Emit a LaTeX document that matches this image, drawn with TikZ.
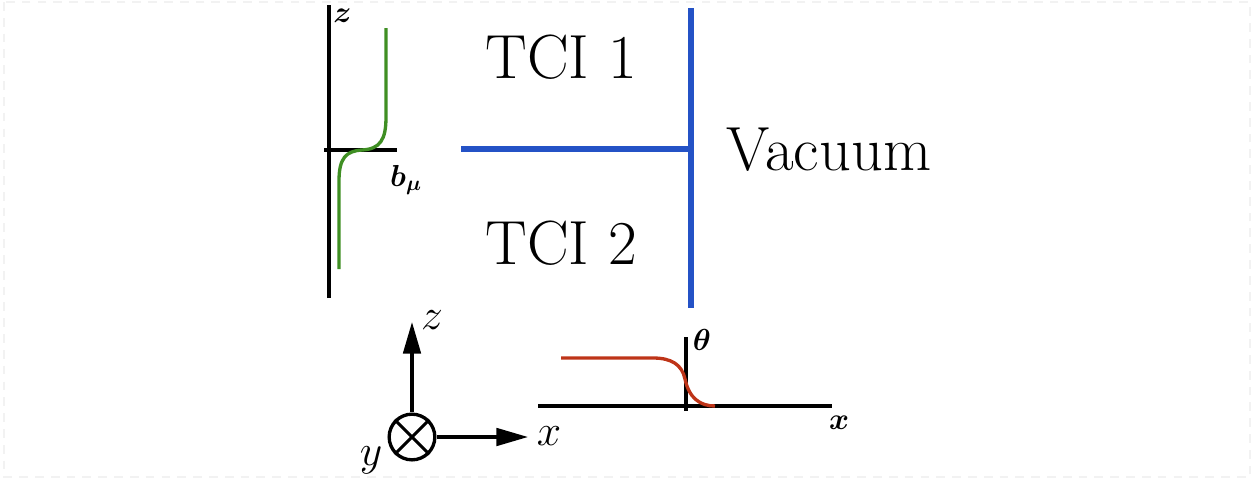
\documentclass[tikz,border=0pt]{standalone}
\usepackage{bm}
\usetikzlibrary{arrows.meta}
\definecolor{wallblue}{RGB}{36,82,198}
\definecolor{bgreen}{RGB}{63,143,35}
\definecolor{tred}{RGB}{190,52,24}
\begin{document}
\begin{tikzpicture}[x=0.02cm,y=-0.02cm,
  wall/.style={line width=3.4pt, draw=wallblue},
  ax/.style={line width=2pt, draw=black},
  plotcurve/.style={line width=1.9pt},
  bigtext/.style={font=\fontsize{35.5}{40}\selectfont, inner sep=0pt},
  smalllab/.style={font=\fontsize{17}{19}\selectfont, inner sep=0pt},
  axlab/.style={font=\fontsize{26}{30}\selectfont, inner sep=0pt},
  arr/.style={line width=1.8pt, -{Triangle[length=18pt,width=10pt]}}]
\useasboundingbox (0,0) rectangle (1255,481);
\draw[black!5, dashed, line width=0.6pt, dash pattern=on 5pt off 4pt] (4,2) rectangle (1250,477);

% domain wall
\coordinate (wtop) at (691,8);
\coordinate (wbot) at (691,308);
\coordinate (wjoin) at (691,149);
\coordinate (wleft) at (461,149);
\draw[wall] (wtop) -- (wbot);
\draw[wall] (wleft) -- (wjoin);
\node[bigtext] (tci1) at (561,57) {TCI 1};
\node[bigtext] (tci2) at (561,243) {TCI 2};
\node[bigtext] (vac) at (829,150) {Vacuum};

% b_mu profile
\coordinate (zb) at (329,298);
\coordinate (zt) at (329,5);
\coordinate (bl) at (324,150);
\coordinate (br) at (397,150);
\draw[ax] (zb) -- (zt);
\draw[ax] (bl) -- (br);
\node[smalllab, anchor=west] (zlab1) at (333,16) {$\bm{z}$};
\node[smalllab] (blab) at (406,180) {$\bm{b_{\mu}}$};
\coordinate (g0) at (339,269);
\coordinate (g1) at (339,181);
\coordinate (g2) at (386,117);
\coordinate (g3) at (386,28);
\draw[plotcurve, bgreen] (g0) -- (g1) .. controls (339,158) and (346,151) .. (362,150) .. controls (380,149) and (386,140) .. (g2) -- (g3);

% theta profile
\coordinate (xl) at (538,406);
\coordinate (xr) at (832,406);
\coordinate (tb) at (686,411);
\coordinate (tt) at (686,337);
\draw[ax] (xl) -- (xr);
\draw[ax] (tb) -- (tt);
\node[smalllab] (thlab) at (702,340) {$\bm{\theta}$};
\node[smalllab] (xlab2) at (839,423) {$\bm{x}$};
\coordinate (r0) at (561,358);
\coordinate (r1) at (653,358);
\coordinate (r2) at (715,406);
\draw[plotcurve, tred] (r0) -- (r1) .. controls (672,358) and (682,365) .. (685,379) .. controls (689,398) and (700,406) .. (r2);

% coordinate axes
\node[circle, draw, line width=1.9pt, minimum size=26pt, inner sep=0pt] (ycirc) at (412,437) {};
\draw[line width=1.8pt] (ycirc.north west) -- (ycirc.south east);
\draw[line width=1.8pt] (ycirc.north east) -- (ycirc.south west);
\coordinate (ztip) at (412,322);
\coordinate (xtip) at (528,437);
\draw[arr] (ycirc.north) -- (ztip);
\draw[arr] (ycirc.east) -- (xtip);
\node[axlab] (zlab) at (432,320) {$z$};
\node[axlab] (xlab) at (549,436) {$x$};
\node[axlab] (ylab) at (371,460) {$y$};
\end{tikzpicture}
\end{document}
